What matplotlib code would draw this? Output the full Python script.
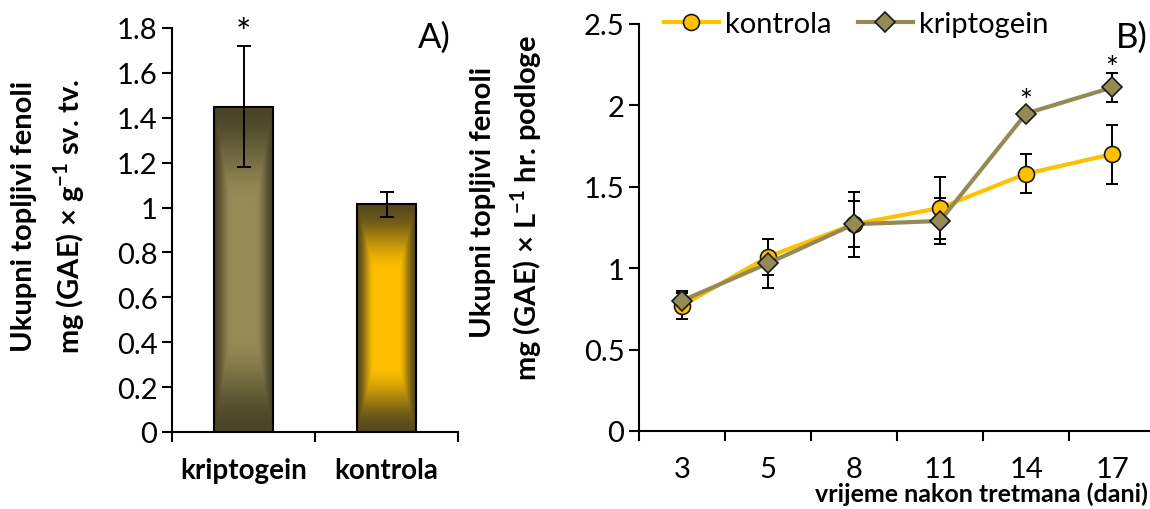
import numpy as np
import matplotlib
matplotlib.use("Agg")
import matplotlib.pyplot as plt
from matplotlib.lines import Line2D
from matplotlib.colors import to_rgb

plt.rcParams['font.family'] = ['Lato', 'DejaVu Sans']
plt.rcParams['mathtext.fontset'] = 'custom'
plt.rcParams['mathtext.rm'] = 'Lato'
plt.rcParams['mathtext.bf'] = 'Lato:bold'

# panel A
groups = ['kriptogein', 'kontrola']
group_vals = [1.45, 1.015]
group_err = [0.27, 0.055]

# panel B
days = ['3', '5', '8', '11', '14', '17']
kontrola = [0.77, 1.07, 1.27, 1.37, 1.58, 1.70]
kontrola_err = [0.08, 0.11, 0.14, 0.19, 0.12, 0.18]
kripto = [0.80, 1.03, 1.27, 1.29, 1.95, 2.11]
kripto_err = [0.06, 0.15, 0.20, 0.14, 0.02, 0.09]

GOLD = '#FFC000'
OLIVE = '#948A54'

W, H = 1150, 510
fig = plt.figure(figsize=(W / 100, H / 100), dpi=100)


def fpos(x0, y0, x1, y1):
    # pixel box -> figure fraction
    return [x0 / W, 1 - y1 / H, (x1 - x0) / W, (y1 - y0) / H]


def style_axes(ax):
    for s in ['top', 'right']:
        ax.spines[s].set_visible(False)
    for s in ['left', 'bottom']:
        ax.spines[s].set_linewidth(1.5)
    ax.tick_params(axis='both', which='major', direction='out', length=7, width=1.5)
    ax.tick_params(axis='x', which='minor', length=0, pad=18)


def shade_bar(ax, bar, light, dark):
    x0, y0 = bar.get_x(), bar.get_y()
    w, h = bar.get_width(), bar.get_height()
    u = np.linspace(-1, 1, 300)
    U, V = np.meshgrid(u, u)
    t = np.clip((np.maximum(np.abs(U), np.abs(V)) - 0.4) / 0.6, 0, 1)
    t = t * t * (3 - 2 * t)
    light, dark = np.array(to_rgb(light)), np.array(to_rgb(dark))
    img = light * (1 - t)[..., None] + dark * t[..., None]
    im = ax.imshow(img, extent=[x0, x0 + w, y0, y0 + h], aspect='auto',
                   origin='lower', zorder=2, interpolation='bilinear')
    im.set_clip_path(bar)


# ---- A)
ax1 = fig.add_axes(fpos(172, 29, 458, 433))
x = np.arange(len(groups))
bars = ax1.bar(x, group_vals, width=0.41, color='none', edgecolor='black',
               linewidth=1.5, zorder=3)
shade_bar(ax1, bars[0], '#968C56', '#4A4528')
shade_bar(ax1, bars[1], GOLD, '#574A1C')
ax1.errorbar(x, group_vals, yerr=group_err, fmt='none', ecolor='black',
             elinewidth=1.4, capsize=4.7, capthick=1.4, zorder=4)
ax1.text(0, 1.775, '*', ha='center', va='center', fontsize=26)
ax1.set_xlim(-0.5, 1.5)
ax1.set_ylim(0, 1.8)
ax1.set_xticks([-0.5, 0.5, 1.5])
ax1.set_xticklabels([])
ax1.set_xticks(x, minor=True)
ax1.set_xticklabels(groups, minor=True, fontweight='bold', fontsize=20)
ax1.set_yticks(np.arange(0, 1.81, 0.2))
ax1.set_yticklabels(['0', '0.2', '0.4', '0.6', '0.8', '1', '1.2', '1.4', '1.6', '1.8'])
ax1.tick_params(axis='y', labelsize=21)
style_axes(ax1)

# ---- B)
ax2 = fig.add_axes(fpos(639, 25, 1155, 432))
xd = np.arange(len(days))
ax2.errorbar(xd, kontrola, yerr=kontrola_err, fmt='none', ecolor='black',
             elinewidth=1.4, capsize=4, capthick=1.4, zorder=2)
ax2.errorbar(xd, kripto, yerr=kripto_err, fmt='none', ecolor='black',
             elinewidth=1.4, capsize=4, capthick=1.4, zorder=2)
ax2.plot(xd, kontrola, color=GOLD, lw=3, marker='o', ms=11.5,
         mfc=GOLD, mec='#1a1a1a', mew=1.2, zorder=3)
ax2.plot(xd, kripto, color=OLIVE, lw=3, marker='D', ms=10,
         mfc=OLIVE, mec='#1a1a1a', mew=1.2, zorder=4)
ax2.text(4, 2.03, '*', ha='center', va='center', fontsize=22)
ax2.text(5, 2.23, '*', ha='center', va='center', fontsize=22)
ax2.set_xlim(-0.5, 5.5)
ax2.set_ylim(0, 2.5)
ax2.set_xticks(np.arange(-0.5, 5.6, 1))
ax2.set_xticklabels([])
ax2.set_xticks(xd, minor=True)
ax2.set_xticklabels(days, minor=True, fontsize=21)
ax2.set_yticks([0, 0.5, 1, 1.5, 2, 2.5])
ax2.set_yticklabels(['0', '0.5', '1', '1.5', '2', '2.5'])
ax2.tick_params(axis='y', labelsize=21)
style_axes(ax2)

handles = [
    Line2D([], [], color=GOLD, lw=3, marker='o', ms=11.5, mfc=GOLD, mec='#1a1a1a', mew=1.2),
    Line2D([], [], color=OLIVE, lw=3, marker='D', ms=10, mfc=OLIVE, mec='#1a1a1a', mew=1.2),
]
ax2.legend(handles, ['kontrola', 'kriptogein'], loc='center left',
           bbox_to_anchor=(0.048, 1.0), ncol=2, frameon=False, fontsize=21,
           handlelength=1.9, handletextpad=0.2, columnspacing=0.9,
           borderpad=0, borderaxespad=0)

# labels
fig.text(434 / W, 1 - 38 / H, 'A)', fontsize=25, ha='center', va='center')
fig.text(1132 / W, 1 - 38 / H, 'B)', fontsize=25, ha='center', va='center')

fig.text(24 / W, 1 - 216 / H, 'Ukupni topljivi fenoli', rotation=90,
         ha='center', va='center', fontweight='bold', fontsize=21)
fig.text(69 / W, 1 - 216 / H, r'mg (GAE) × g$^{\mathbf{-1}}$ sv. tv.', rotation=90,
         ha='center', va='center', fontweight='bold', fontsize=21)
fig.text(483 / W, 1 - 202 / H, 'Ukupni topljivi fenoli', rotation=90,
         ha='center', va='center', fontweight='bold', fontsize=21)
fig.text(526 / W, 1 - 208 / H, r'mg (GAE) × L$^{\mathbf{-1}}$ hr. podloge', rotation=90,
         ha='center', va='center', fontweight='bold', fontsize=21)
fig.text(1148 / W, 1 - 494 / H, 'vrijeme nakon tretmana (dani)',
         ha='right', va='center', fontweight='bold', fontsize=18)

fig.savefig('out.png', dpi=100)
